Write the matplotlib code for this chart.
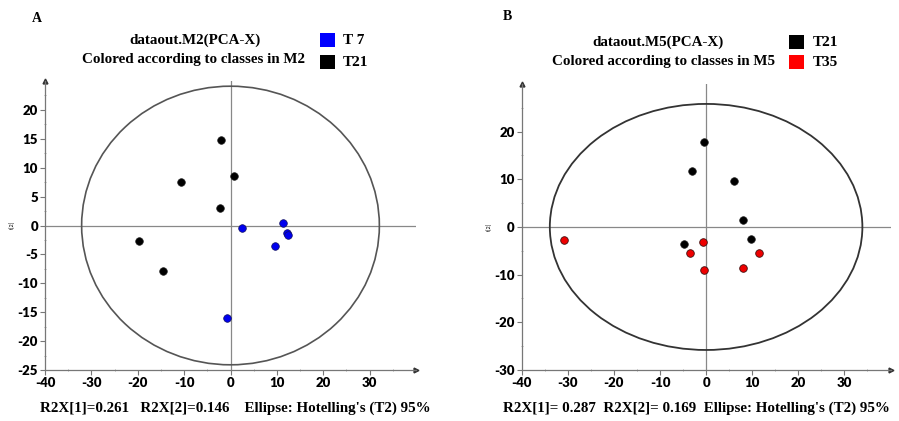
import matplotlib
matplotlib.use("Agg")
import matplotlib.pyplot as plt
from matplotlib.patches import Ellipse, Rectangle
from matplotlib.ticker import MultipleLocator

plt.rcParams["axes.unicode_minus"] = False

# ---- Data ----
a_t21_x = [-2.1, -10.6, 0.8, -2.2, -19.7, -14.6]
a_t21_y = [14.8, 7.6, 8.65, 3.05, -2.7, -7.9]
a_t7_x = [2.5, 11.4, 12.2, 12.5, 9.7, -0.7]
a_t7_y = [-0.35, 0.5, -1.3, -1.7, -3.6, -16.0]
a_ellipse = (32.1, 24.1)

b_t21_x = [-0.4, -3.0, 6.1, 8.1, 9.8, -4.8]
b_t21_y = [17.9, 11.8, 9.6, 1.5, -2.6, -3.6]
b_t35_x = [-30.9, -0.7, -3.4, -0.45, 7.9, 11.5]
b_t35_y = [-2.8, -3.1, -5.5, -9.1, -8.7, -5.5]
b_ellipse = (33.9, 25.8)

xticks = [-40, -30, -20, -10, 0, 10, 20, 30]
a_yticks = [-25, -20, -15, -10, -5, 0, 5, 10, 15, 20]
b_yticks = [-30, -20, -10, 0, 10, 20]

W, H = 899, 421
fig = plt.figure(figsize=(W / 100, H / 100), dpi=100)
fig.patch.set_facecolor("white")

serif = ["Liberation Serif", "DejaVu Serif"]
sans = ["Lato", "DejaVu Sans"]


def px(x, y):
    return x / W, 1 - y / H


def setup(ax, xlim, ylim, yticks, yminor):
    ax.set_xlim(*xlim)
    ax.set_ylim(*ylim)
    for s in ["top", "right"]:
        ax.spines[s].set_visible(False)
    for s in ["left", "bottom"]:
        ax.spines[s].set_color("#777777")
        ax.spines[s].set_linewidth(0.9)
    ax.set_xticks(xticks)
    ax.set_xticklabels([str(v) for v in xticks], family=sans, fontweight="heavy", fontsize=9.5)
    ax.set_yticks(yticks)
    ax.set_yticklabels([str(v) for v in yticks], family=sans, fontweight="heavy", fontsize=9.5)
    ax.xaxis.set_minor_locator(MultipleLocator(5))
    ax.yaxis.set_minor_locator(MultipleLocator(yminor))
    ax.tick_params(which="major", length=3.5, width=0.8, color="#777777", pad=1.5)
    ax.tick_params(which="minor", length=2, width=0.6, color="#999999", direction="inout")
    ax.axhline(0, color="#888888", lw=0.9, zorder=1)
    ax.axvline(0, color="#888888", lw=0.9, zorder=1)
    ax.plot(1, 0, ">", color="#333333", ms=3.5, transform=ax.transAxes, clip_on=False)
    ax.plot(0, 1, "^", color="#333333", ms=3.5, transform=ax.transAxes, clip_on=False)


# Panel A
axA = fig.add_axes([45 / W, 1 - 370 / H, 371 / W, 289 / H])
setup(axA, (-40, 40), (-25, 25), a_yticks, 2.5)
axA.add_patch(Ellipse((0, 0), 2 * a_ellipse[0], 2 * a_ellipse[1], fill=False,
                      edgecolor="#555555", lw=1.2, zorder=2))
axA.scatter(a_t21_x, a_t21_y, s=30, color="black", edgecolor="#222222", lw=0.5, zorder=3)
axA.scatter(a_t7_x, a_t7_y, s=30, color="#0000ee", edgecolor="#101060", lw=0.5, zorder=3)

# Panel B
axB = fig.add_axes([521.7 / W, 1 - 370 / H, 368.8 / W, 286.1 / H])
setup(axB, (-40, 40), (-30, 30), b_yticks, 5)
axB.add_patch(Ellipse((0, 0), 2 * b_ellipse[0], 2 * b_ellipse[1], fill=False,
                      edgecolor="#333333", lw=1.3, zorder=2))
axB.scatter(b_t21_x, b_t21_y, s=30, color="black", edgecolor="#222222", lw=0.5, zorder=3)
axB.scatter(b_t35_x, b_t35_y, s=30, color="#ee0000", edgecolor="#401010", lw=0.6, zorder=3)

# y labels "t[2]"
fig.text(*px(13, 225), "t[2]", rotation=90, fontsize=4, ha="center", va="center",
         family=sans)
fig.text(*px(490, 227), "t[2]", rotation=90, fontsize=4, ha="center", va="center",
         family=sans)

# Panel letters
fig.text(*px(37, 18), "A", fontsize=10, fontweight="bold", family=serif, ha="center", va="center")
fig.text(*px(507, 17), "B", fontsize=10, fontweight="bold", family=serif, ha="center", va="center")

# Titles
tkw = dict(fontsize=10.8, fontweight="bold", family=serif, ha="center", va="center")
fig.text(*px(195, 40), "dataout.M2(PCA-X)", **tkw)
fig.text(*px(193, 60), "Colored according to classes in M2", **tkw)
fig.text(*px(658, 42), "dataout.M5(PCA-X)", **tkw)
fig.text(*px(664, 62), "Colored according to classes in M5", **tkw)

# Legends
def legend_box(x, y, color, label, lx):
    fig.patches.append(Rectangle(px(x, y + 7), 15 / W, 14 / H, facecolor=color,
                                 edgecolor="none", transform=fig.transFigure, figure=fig))
    fig.text(*px(lx, y), label, fontsize=11, fontweight="bold", family=serif,
             ha="left", va="center")

legend_box(320, 40, "#0000ff", "T 7", 343)
legend_box(320, 62, "black", "T21", 343)
legend_box(789, 42, "black", "T21", 813)
legend_box(789, 62, "#ff0000", "T35", 813)

# Bottom texts
bkw = dict(fontsize=10.85, fontweight="bold", family=serif, ha="left", va="center")
fig.text(*px(40, 408), "R2X[1]=0.261   R2X[2]=0.146    Ellipse: Hotelling's (T2) 95%", **bkw)
fig.text(*px(503, 408), "R2X[1]= 0.287  R2X[2]= 0.169  Ellipse: Hotelling's (T2) 95%", **bkw)

fig.savefig("out.png", dpi=100, facecolor="white")
